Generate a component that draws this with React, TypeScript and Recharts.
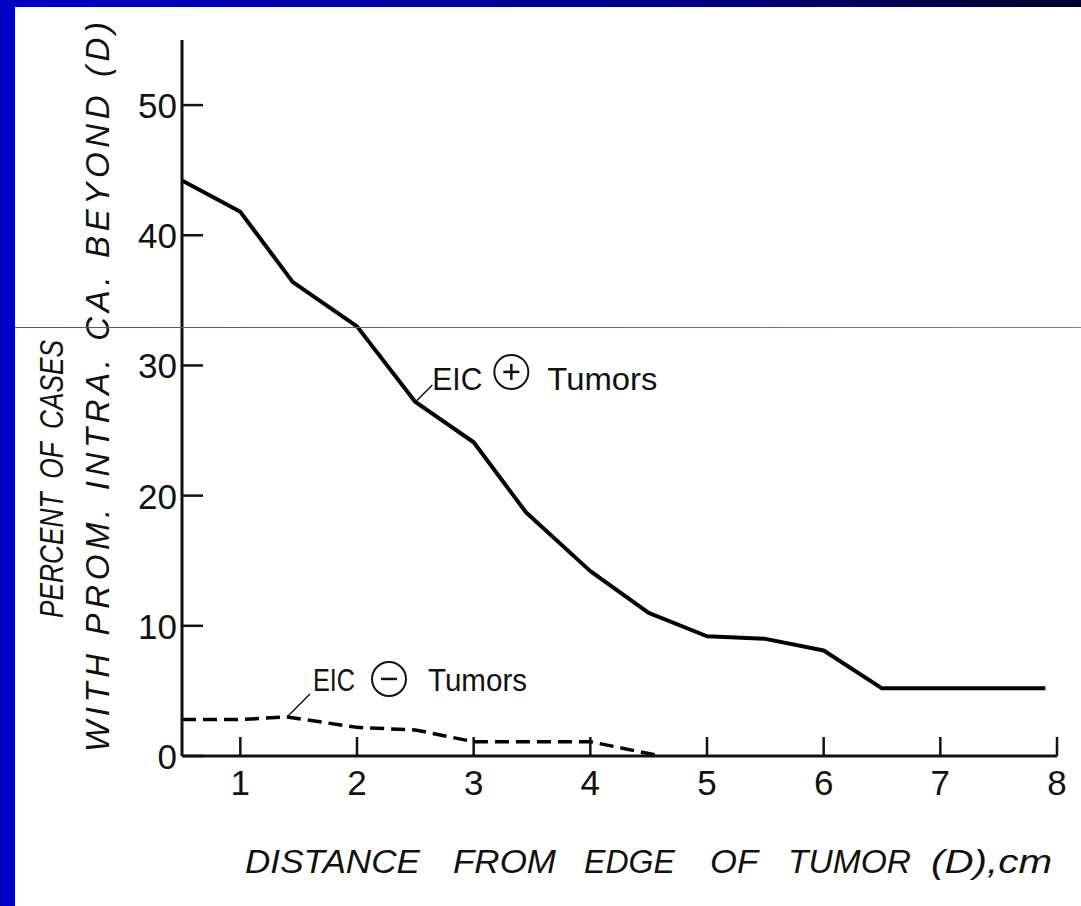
import React from "react";
import { LineChart, Line, XAxis, YAxis, ReferenceDot, Customized } from "recharts";

// ---- data ----
const xTicks = [1, 2, 3, 4, 5, 6, 7, 8];
const yTicks = [0, 10, 20, 30, 40, 50];

const eicPosX = [0.5, 1, 1.45, 2, 2.5, 3, 3.45, 4, 4.5, 5, 5.5, 6, 6.5, 7.9];
const eicPosY = [44.2, 41.8, 36.4, 33, 27.2, 24.1, 18.7, 14.2, 11, 9.2, 9.0, 8.1, 5.2, 5.2];

const eicNegX = [0.5, 1, 1.4, 2, 2.5, 3, 3.5, 4, 4.6];
const eicNegY = [2.8, 2.8, 3.0, 2.2, 2.0, 1.1, 1.1, 1.1, 0];

const posLabel = { x: 2.5, y: 27.2, sign: "+" };
const negLabel = { x: 1.4, y: 3.0, sign: "-" };

const xTitleWords = ["DISTANCE", "FROM", "EDGE", "OF", "TUMOR", "(D),cm"];
const yTitle1 = "PERCENT OF CASES";
const yTitle2 = "WITH PROM. INTRA. CA. BEYOND (D)";

const posData = eicPosX.map((x, i) => ({ x, y: eicPosY[i] }));
const negData = eicNegX.map((x, i) => ({ x, y: eicNegY[i] }));

// layout of the x-title words (start, width in px)
const xTitleLayout: [number, number][] = [
  [245, 175],
  [453, 103],
  [584, 91],
  [710, 48],
  [788, 123],
  [931, 121],
];

const FONT = "'Liberation Sans', Arial, Helvetica, sans-serif";
const INK = "#111";

const XTick = (props: any) => {
  const { x, y, payload } = props;
  return (
    <g>
      <line x1={x} y1={y} x2={x} y2={y - 19} stroke={INK} strokeWidth={2.5} />
      <text x={x} y={y + 39} textAnchor="middle" fontSize={35} fontFamily={FONT} fill={INK}>
        {payload.value}
      </text>
    </g>
  );
};

const YTick = (props: any) => {
  const { x, y, payload } = props;
  return (
    <g>
      <line x1={x} y1={y} x2={x + 21} y2={y} stroke={INK} strokeWidth={2.5} />
      <text x={x - 5} y={y + 13} textAnchor="end" fontSize={35} fontFamily={FONT} fill={INK}>
        {payload.value}
      </text>
    </g>
  );
};

const makeAnnot = (cfg: {
  lead: [number, number];
  eic: [number, number, number];
  circ: [number, number, number];
  tum: [number, number];
  sign: string;
}) => (props: any) => {
  const { cx, cy } = props;
  if (cx == null || cy == null) return <g />;
  const [ldx, ldy] = cfg.lead;
  const [ex, ey, ew] = cfg.eic;
  const [ccx, ccy, r] = cfg.circ;
  const [tx, tw] = cfg.tum;
  return (
    <g>
      <line x1={cx} y1={cy} x2={cx + ldx} y2={cy + ldy} stroke={INK} strokeWidth={1.5} />
      <text x={cx + ex} y={cy + ey} fontSize={32} fontFamily={FONT} fill={INK} textLength={ew} lengthAdjust="spacingAndGlyphs">
        EIC
      </text>
      <circle cx={cx + ccx} cy={cy + ccy} r={r} fill="none" stroke={INK} strokeWidth={2} />
      <line x1={cx + ccx - 8} y1={cy + ccy} x2={cx + ccx + 8} y2={cy + ccy} stroke={INK} strokeWidth={2.5} />
      {cfg.sign === "+" && (
        <line x1={cx + ccx} y1={cy + ccy - 8} x2={cx + ccx} y2={cy + ccy + 8} stroke={INK} strokeWidth={2.5} />
      )}
      <text x={cx + tx} y={cy + ey} fontSize={32} fontFamily={FONT} fill={INK} textLength={tw} lengthAdjust="spacingAndGlyphs">
        Tumors
      </text>
    </g>
  );
};

const PosAnnot = makeAnnot({ lead: [17, -17], eic: [17, -12, 50], circ: [96, -30, 17], tum: [132, 110], sign: "+" });
const NegAnnot = makeAnnot({ lead: [23, -23], eic: [26, -26, 42], circ: [102, -38, 17], tum: [141, 99], sign: "-" });

const Titles = () => (
  <g fontFamily={FONT} fill={INK} fontStyle="italic" fontSize={33}>
    {xTitleWords.map((w, i) => (
      <text key={w} x={xTitleLayout[i][0]} y={873} textLength={xTitleLayout[i][1]} lengthAdjust="spacingAndGlyphs">
        {w}
      </text>
    ))}
    <text
      x={63}
      y={479}
      textAnchor="middle"
      transform="rotate(-90 63 479)"
      textLength={278}
      lengthAdjust="spacingAndGlyphs"
      wordSpacing={8}
    >
      {yTitle1}
    </text>
    <text x={109} y={387} textAnchor="middle" transform="rotate(-90 109 387)" textLength={730} lengthAdjust="spacing">
      {yTitle2}
    </text>
  </g>
);

export default function App() {
  return (
    <div
      style={{
        position: "absolute",
        left: 0,
        top: 0,
        width: 1081,
        height: 906,
        background: "#0000c4",
        overflow: "hidden",
      }}
    >
      <div
        style={{
          position: "absolute",
          left: 0,
          top: 0,
          width: 1081,
          height: 7,
          background: "linear-gradient(to right, #0000c4, #00008a 60%, #00002a)",
        }}
      />
      <div style={{ position: "absolute", left: 15, top: 7, width: 1066, height: 899, background: "#ffffff" }} />
      <div
        style={{
          position: "absolute",
          left: 15,
          top: 327,
          width: 1066,
          height: 1,
          background: "linear-gradient(to right, #4a4aa8, #6a6aa0 60%, #808080)",
          zIndex: 2,
        }}
      />
      <div style={{ position: "absolute", left: 0, top: 0 }}>
        <LineChart width={1081} height={906} margin={{ top: 40, right: 24, left: 0, bottom: 0 }}>
          <XAxis
            type="number"
            dataKey="x"
            domain={[0.5, 8]}
            ticks={xTicks}
            allowDataOverflow
            height={150}
            tickSize={0}
            tickMargin={0}
            tickLine={false}
            axisLine={{ stroke: INK, strokeWidth: 3 }}
            tick={<XTick />}
            interval={0}
          />
          <YAxis
            type="number"
            dataKey="y"
            domain={[0, 55]}
            ticks={yTicks}
            allowDataOverflow
            width={182}
            tickSize={0}
            tickMargin={0}
            tickLine={false}
            axisLine={{ stroke: INK, strokeWidth: 3 }}
            tick={<YTick />}
            interval={0}
          />
          <Line
            data={posData}
            dataKey="y"
            type="linear"
            stroke="#000"
            strokeWidth={4}
            strokeLinejoin="round"
            dot={false}
            isAnimationActive={false}
          />
          <Line
            data={negData}
            dataKey="y"
            type="linear"
            stroke="#000"
            strokeWidth={3.5}
            strokeDasharray="14 7"
            dot={false}
            isAnimationActive={false}
          />
          <ReferenceDot x={posLabel.x} y={posLabel.y} r={0} shape={PosAnnot} ifOverflow="visible" />
          <ReferenceDot x={negLabel.x} y={negLabel.y} r={0} shape={NegAnnot} ifOverflow="visible" />
          <Customized component={Titles} />
        </LineChart>
      </div>
    </div>
  );
}
